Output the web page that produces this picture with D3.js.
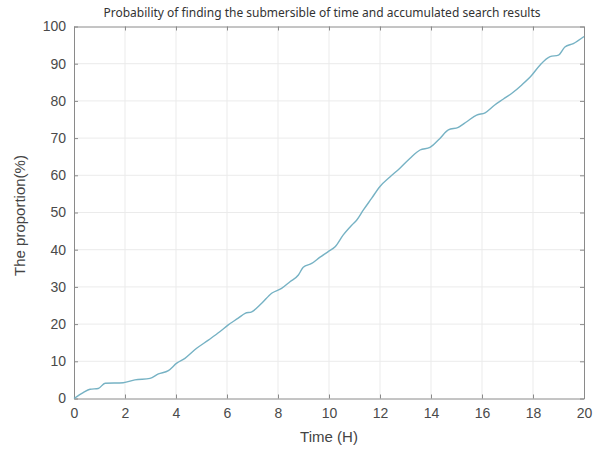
<!DOCTYPE html>
<html>
<head>
<meta charset="utf-8">
<script src="https://cdn.jsdelivr.net/npm/d3@7"></script>
<style>
    body { margin: 0; background: #fff; }
    svg { display: block; }
    .tick text { font-family: "Liberation Sans", Arial, sans-serif; font-size: 14px; fill: #4a4a4a; }
</style>
</head>
<body>
<div id="svg-container"></div>
<script>
const width = 602;
const height = 450;
const margin = { left: 74, right: 18, top: 26.5, bottom: 51.5 };

// hours and accumulated proportion (%)
const times = [0, 0.36, 0.63, 0.95, 1.22, 1.93, 2.39, 2.98, 3.31, 3.70, 4.03, 4.35, 4.81, 5.27, 5.73,
    6.05, 6.44, 6.71, 6.97, 7.36, 7.75, 8.14, 8.47, 8.80, 8.99, 9.32, 9.65, 9.97, 10.24, 10.56,
    10.89, 11.09, 11.35, 11.67, 12.0, 12.4, 12.78, 13.18, 13.57, 13.96, 14.35, 14.68, 15.07, 15.4,
    15.79, 16.12, 16.5, 16.84, 17.16, 17.56, 17.95, 18.27, 18.67, 19.0, 19.25, 19.58, 20.0];
const proportion = [0, 1.6, 2.5, 2.7, 4.1, 4.25, 5.0, 5.4, 6.6, 7.5, 9.5, 10.8, 13.5, 15.7, 18.0,
    19.8, 21.6, 22.9, 23.3, 25.6, 28.3, 29.6, 31.4, 33.2, 35.3, 36.3, 38.0, 39.5, 40.8, 44.0,
    46.6, 48.0, 50.7, 53.8, 57.0, 59.6, 61.9, 64.6, 66.8, 67.5, 69.9, 72.2, 72.9, 74.4,
    76.2, 76.8, 78.9, 80.5, 82.0, 84.3, 86.9, 89.6, 91.9, 92.3, 94.5, 95.4, 97.3];

const xTicks = [0, 2, 4, 6, 8, 10, 12, 14, 16, 18, 20];
const yTicks = [0, 10, 20, 30, 40, 50, 60, 70, 80, 90, 100];

const title = 'Probability of finding the submersible of time and accumulated search results';
const xLabel = 'Time (H)';
const yLabel = 'The proportion(%)';

const svg = d3.select('#svg-container')
    .append('svg')
    .attr('width', width)
    .attr('height', height);

const scales = {
    x: d3.scaleLinear().domain([0, 20]).range([margin.left, width - margin.right]),
    y: d3.scaleLinear().domain([0, 100]).range([height - margin.bottom, margin.top])
};

// grid
const elGrid = svg.insert('g').classed('grid', true);
elGrid.selectAll('line.gx')
    .data(xTicks.slice(1, -1))
    .join('line')
    .attr('x1', d => scales.x(d)).attr('x2', d => scales.x(d))
    .attr('y1', scales.y(0)).attr('y2', scales.y(100))
    .attr('stroke', '#ebebeb');
elGrid.selectAll('line.gy')
    .data(yTicks.slice(1, -1))
    .join('line')
    .attr('y1', d => scales.y(d)).attr('y2', d => scales.y(d))
    .attr('x1', scales.x(0)).attr('x2', scales.x(20))
    .attr('stroke', '#ebebeb');

// axes (inward ticks, box style)
const axes = {
    x: d3.axisBottom(scales.x).tickValues(xTicks).tickSizeInner(-4).tickSizeOuter(0).tickPadding(10),
    y: d3.axisLeft(scales.y).tickValues(yTicks).tickSizeInner(-4).tickSizeOuter(0).tickPadding(8),
    top: d3.axisTop(scales.x).tickValues(xTicks).tickSizeInner(-4).tickSizeOuter(0).tickFormat(''),
    right: d3.axisRight(scales.y).tickValues(yTicks).tickSizeInner(-4).tickSizeOuter(0).tickFormat('')
};

const elAxes = {};
elAxes.x = svg.insert('g').attr('transform', `translate(0,${scales.y(0)})`).call(axes.x);
elAxes.y = svg.insert('g').attr('transform', `translate(${scales.x(0)},0)`).call(axes.y);
elAxes.top = svg.insert('g').attr('transform', `translate(0,${scales.y(100)})`).call(axes.top);
elAxes.right = svg.insert('g').attr('transform', `translate(${scales.x(20)},0)`).call(axes.right);

svg.selectAll('.domain').attr('stroke', '#8a8a8a');
svg.selectAll('.tick line').attr('stroke', '#8a8a8a');

// curve
const line = d3.line()
    .x((d, i) => scales.x(times[i]))
    .y(d => scales.y(d))
    .curve(d3.curveMonotoneX);

svg.insert('path')
    .datum(proportion)
    .attr('d', line)
    .attr('fill', 'none')
    .attr('stroke', '#76b2c4')
    .attr('stroke-width', 1.4);

// texts
svg.insert('text')
    .attr('x', 322)
    .attr('y', 17)
    .attr('text-anchor', 'middle')
    .style('font-family', '"Noto Sans", sans-serif')
    .style('font-size', '12px')
    .style('fill', '#333')
    .text(title);

svg.insert('text')
    .attr('x', (scales.x(0) + scales.x(20)) / 2)
    .attr('y', 442)
    .attr('text-anchor', 'middle')
    .style('font-family', '"Liberation Sans", Arial, sans-serif')
    .style('font-size', '15px')
    .style('fill', '#444')
    .text(xLabel);

svg.insert('text')
    .attr('transform', `translate(25,${(scales.y(0) + scales.y(100)) / 2 + 3}) rotate(-90)`)
    .attr('text-anchor', 'middle')
    .style('font-family', '"Liberation Sans", Arial, sans-serif')
    .style('font-size', '15px')
    .style('fill', '#444')
    .text(yLabel);
</script>
</body>
</html>
